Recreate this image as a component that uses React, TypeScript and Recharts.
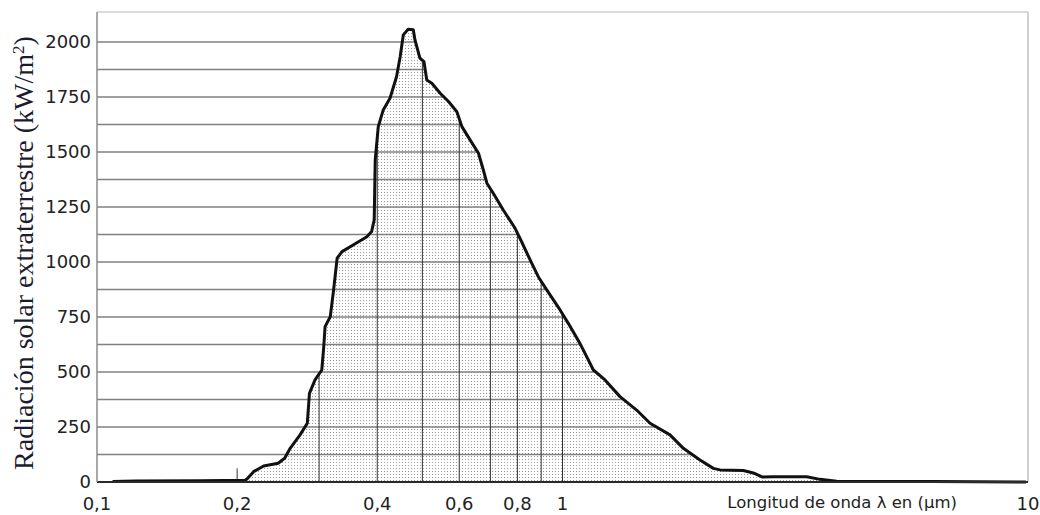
import React from 'react';
import { ComposedChart, Area, Line, XAxis, YAxis, ReferenceLine, Label } from 'recharts';

// wavelength in µm
const wavelengths = [
  0.108, 0.121, 0.167, 0.208, 0.21, 0.217, 0.228, 0.245, 0.253, 0.26,
  0.273, 0.283, 0.286, 0.294, 0.304, 0.307, 0.309, 0.317, 0.322, 0.328,
  0.336, 0.355, 0.38, 0.389, 0.394, 0.396, 0.402, 0.412, 0.426, 0.44,
  0.448, 0.455, 0.466, 0.478, 0.482, 0.494, 0.504, 0.511, 0.524, 0.546,
  0.569, 0.593, 0.608, 0.633, 0.66, 0.676, 0.688, 0.71, 0.746, 0.791,
  0.817, 0.852, 0.887, 0.925, 0.988, 1.029, 1.09, 1.127, 1.165, 1.234,
  1.329, 1.443, 1.542, 1.702, 1.818, 1.974, 2.109, 2.18, 2.446, 2.57,
  2.683, 2.837, 3.346, 3.574, 3.881, 6.25, 9.9,
];

const radiation = [
  2, 4, 6, 8, 14, 47, 73, 85, 108, 153,
  214, 267, 403, 464, 509, 615, 706, 751, 865, 1017,
  1047, 1077, 1115, 1138, 1191, 1464, 1615, 1691, 1744, 1842,
  1933, 2032, 2058, 2055, 2009, 1926, 1910, 1827, 1812, 1767,
  1729, 1683, 1615, 1555, 1494, 1418, 1358, 1312, 1236, 1153,
  1092, 1009, 933, 873, 782, 721, 630, 570, 509, 464,
  388, 327, 267, 214, 153, 100, 62, 55, 52, 41,
  23, 24, 24, 12, 3, 2, 0,
];

const xTicks = [0.1, 0.2, 0.4, 0.6, 0.8, 1, 10];
const yTicks = [0, 250, 500, 750, 1000, 1250, 1500, 1750, 2000];
const hLevels = [125, 250, 375, 500, 625, 750, 875, 1000, 1125, 1250, 1375, 1500, 1625, 1750, 1875, 2000];
const vLevels = [0.3, 0.4, 0.5, 0.6, 0.7, 0.8, 0.9, 1];

const X_MIN = 0.1;
const X_MAX = 10;
const Y_MAX = 2136;

const data = wavelengths.map((wl, i) => ({ wl, rad: radiation[i] }));

// curve height at a wavelength (linear between points on the log axis)
const valueAt = (w: number) => {
  for (let i = 0; i < wavelengths.length - 1; i++) {
    const a = wavelengths[i], b = wavelengths[i + 1];
    if (w >= a && w <= b) {
      const t = (Math.log(w) - Math.log(a)) / (Math.log(b) - Math.log(a));
      return radiation[i] + t * (radiation[i + 1] - radiation[i]);
    }
  }
  return 0;
};

// where the right flank of the curve drops below a level
const rightCross = (level: number) => {
  for (let i = wavelengths.length - 1; i > 0; i--) {
    const r0 = radiation[i - 1], r1 = radiation[i];
    if (r0 >= level && r1 < level) {
      const t = (r0 - level) / (r0 - r1);
      const la = Math.log(wavelengths[i - 1]), lb = Math.log(wavelengths[i]);
      return Math.exp(la + t * (lb - la));
    }
  }
  return X_MIN;
};

const fmtX = (v: number) => String(v).replace('.', ',');

const YTitle = (props: any) => {
  const vb = props.viewBox || { x: 0, y: 12, width: 97, height: 470 };
  const cx = 33;
  const cy = vb.y + vb.height / 2 + 6;
  return (
    <text
      x={cx}
      y={cy}
      transform={`rotate(-90 ${cx} ${cy})`}
      textAnchor="middle"
      fontFamily="'Liberation Serif', 'Times New Roman', serif"
      fontSize={28}
      fill="#1c1c30"
    >
      Radiación solar extraterrestre (kW/m
      <tspan baselineShift="super" fontSize={17}>2</tspan>
      )
    </text>
  );
};

const XTitle = (props: any) => {
  const vb = props.viewBox || { x: 97, y: 482, width: 931, height: 33 };
  return (
    <text
      x={vb.x + vb.width - 71}
      y={vb.y + 26}
      textAnchor="end"
      fontFamily="'DejaVu Sans', sans-serif"
      fontSize={16.5}
      fill="#222"
    >
      Longitud de onda λ en (μm)
    </text>
  );
};

export default function App() {
  return (
    <div style={{ position: 'absolute', left: 0, top: 0, background: '#fff' }}>
      <svg width={0} height={0} style={{ position: 'absolute' }}>
        <defs>
          <pattern id="stipple" width={3} height={3} patternUnits="userSpaceOnUse">
            <rect width={3} height={3} fill="#fff" />
            <rect width={1} height={1} fill="#9a9a9a" />
          </pattern>
        </defs>
      </svg>
      <ComposedChart
        width={1040}
        height={515}
        data={data}
        margin={{ top: 12, right: 12, bottom: 0, left: 0 }}
      >
        <XAxis
          dataKey="wl"
          type="number"
          scale="log"
          domain={[X_MIN, X_MAX]}
          allowDataOverflow
          ticks={xTicks}
          tickFormatter={fmtX}
          tickLine={false}
          tickSize={0}
          tickMargin={15}
          height={33}
          axisLine={{ stroke: '#2a2a2a', strokeWidth: 2 }}
          tick={{ fill: '#222', fontSize: 18, fontFamily: "'DejaVu Sans', sans-serif" }}
        >
          <Label content={<XTitle />} />
        </XAxis>
        <YAxis
          type="number"
          domain={[0, Y_MAX]}
          ticks={yTicks}
          width={97}
          tickLine={false}
          tickSize={0}
          tickMargin={6}
          axisLine={{ stroke: '#8c8c8c', strokeWidth: 1.5 }}
          tick={{ fill: '#222', fontSize: 18, fontFamily: "'DejaVu Sans', sans-serif" }}
        >
          <Label content={<YTitle />} />
        </YAxis>

        <Area
          dataKey="rad"
          type="linear"
          fill="url(#stipple)"
          fillOpacity={1}
          stroke="none"
          isAnimationActive={false}
        />

        {hLevels.map((lv) => (
          <ReferenceLine
            key={`h-${lv}`}
            segment={[{ x: X_MIN, y: lv }, { x: rightCross(lv), y: lv }]}
            stroke="#808080"
            strokeWidth={1.5}
          />
        ))}
        {vLevels.map((w) => (
          <ReferenceLine
            key={`v-${w}`}
            segment={[{ x: w, y: 0 }, { x: w, y: valueAt(w) }]}
            stroke="#333"
            strokeWidth={1}
          />
        ))}
        <ReferenceLine segment={[{ x: 0.2, y: 0 }, { x: 0.2, y: 62 }]} stroke="#333" strokeWidth={1} />
        <ReferenceLine y={Y_MAX} stroke="#cfcfcf" strokeWidth={1.5} />
        <ReferenceLine x={X_MAX} stroke="#cfcfcf" strokeWidth={2} />

        <Line
          dataKey="rad"
          type="linear"
          stroke="#111"
          strokeWidth={3}
          strokeLinejoin="round"
          dot={false}
          activeDot={false}
          isAnimationActive={false}
        />
      </ComposedChart>
    </div>
  );
}
